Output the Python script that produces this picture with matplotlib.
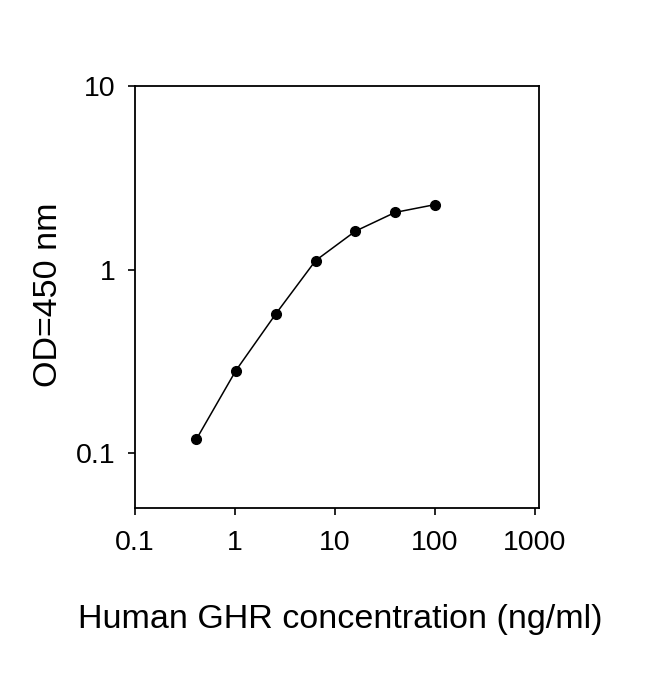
import matplotlib
matplotlib.use("Agg")
import matplotlib.pyplot as plt
from matplotlib.ticker import FixedLocator, NullLocator, FixedFormatter

plt.rcParams['font.family'] = ['Liberation Sans', 'DejaVu Sans']

# standard curve
conc = [0.41, 1.02, 2.56, 6.4, 16, 40, 100]
od = [0.119, 0.282, 0.574, 1.12, 1.62, 2.05, 2.26]

x_ticks = [0.1, 1, 10, 100, 1000]
x_labels = ['0.1', '1', '10', '100', '1000']
y_ticks = [0.1, 1, 10]
y_labels = ['0.1', '1', '10']

fig = plt.figure(figsize=(6.5, 6.73), dpi=100)
ax = fig.add_axes([0.2077, 0.2452, 0.6215, 0.627])

ax.plot(conc, od, color='black', lw=1.1, marker='o', ms=7, mfc='black', mec='black')

ax.set_xscale('log')
ax.set_yscale('log')
ax.set_xlim(0.1, 1100)
ax.set_ylim(0.0504, 10)

ax.xaxis.set_major_locator(FixedLocator(x_ticks))
ax.xaxis.set_major_formatter(FixedFormatter(x_labels))
ax.xaxis.set_minor_locator(NullLocator())
ax.yaxis.set_major_locator(FixedLocator(y_ticks))
ax.yaxis.set_major_formatter(FixedFormatter(y_labels))
ax.yaxis.set_minor_locator(NullLocator())

ax.tick_params(axis='both', direction='out', length=5, width=1.2, labelsize=20.5, colors='black')
ax.tick_params(axis='x', pad=11)
ax.tick_params(axis='y', pad=9)

for s in ax.spines.values():
    s.set_linewidth(1.3)

ax.set_xlabel('Human GHR concentration (ng/ml)', fontsize=24.5, va='center')
ax.xaxis.set_label_coords(0.507, -0.265)
ax.set_ylabel('OD=450 nm', fontsize=24.5, va='center')
ax.yaxis.set_label_coords(-0.215, 0.505)

fig.savefig('out.png', dpi=100)
